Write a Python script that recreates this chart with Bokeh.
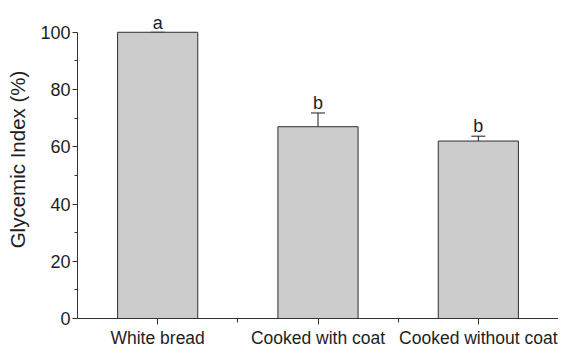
from bokeh.plotting import figure
from bokeh.models import ColumnDataSource, FixedTicker, Whisker, TeeHead, Range1d
from bokeh.core.properties import value
from bokeh.embed import file_html
from bokeh.resources import INLINE

categories = ["White bread", "Cooked with coat", "Cooked without coat"]
gi_values = [100, 67, 62]
gi_errors = [0, 4.8, 1.7]
sig_letters = ["a", "b", "b"]
y_ticks = [0, 20, 40, 60, 80, 100]
y_minor = [10, 30, 50, 70, 90]

xs = list(range(len(categories)))
src = ColumnDataSource(dict(
    x=xs,
    top=gi_values,
    upper=[v + e for v, e in zip(gi_values, gi_errors)],
    lower=gi_values,
    lab_y=[v + e + 3.4 for v, e in zip(gi_values, gi_errors)],
    lab=sig_letters,
))

FONT = "Liberation Sans"
TXT = "#1e1e1e"

p = figure(width=558, height=350, output_backend="svg", toolbar_location=None,
           x_range=Range1d(-0.5, 2.5), y_range=Range1d(0, 111.1),
           min_border_left=77, min_border_right=0, min_border_top=0, min_border_bottom=29)
p.outline_line_color = None
p.xgrid.visible = False
p.ygrid.visible = False
p.background_fill_color = "white"

p.vbar(x="x", top="top", bottom=0, width=0.5, source=src,
       fill_color="#cccccc", line_color="#2e2e2e", line_width=1)

w = Whisker(base="x", upper="upper", lower="lower", source=src,
            line_color="#1a1a1a", line_width=1,
            upper_head=TeeHead(size=14, line_color="#1a1a1a", line_width=1),
            lower_head=None)
p.add_layout(w)

p.text(x="x", y="lab_y", text="lab", source=src, text_align="center",
       text_baseline="alphabetic", text_font=value(FONT), text_font_size="18px",
       text_color=TXT)

# y axis
ya = p.yaxis[0]
ya.ticker = FixedTicker(ticks=y_ticks, minor_ticks=y_minor)
ya.bounds = (0, 100)
ya.axis_label = "Glycemic Index (%)"
ya.axis_label_text_font = FONT
ya.axis_label_text_font_size = "20.5px"
ya.axis_label_text_font_style = "normal"
ya.axis_label_text_color = TXT
ya.axis_label_standoff = 8
ya.major_label_text_font = FONT
ya.major_label_text_font_size = "18px"
ya.major_label_text_color = TXT
ya.major_label_standoff = 2
ya.major_tick_out = 5
ya.major_tick_in = 0
ya.minor_tick_out = 3
ya.minor_tick_in = 0
ya.axis_line_color = "#333333"
ya.major_tick_line_color = "#333333"
ya.minor_tick_line_color = "#333333"

# x axis
xa = p.xaxis[0]
xa.ticker = FixedTicker(ticks=xs, minor_ticks=[i + 0.5 for i in xs[:-1]])
xa.major_label_overrides = {i: c for i, c in zip(xs, categories)}
xa.major_label_text_font = FONT
xa.major_label_text_font_size = "17.5px"
xa.major_label_text_color = TXT
xa.major_label_standoff = 3
xa.major_tick_out = 6
xa.major_tick_in = 0
xa.minor_tick_out = 4
xa.minor_tick_in = 0
xa.axis_line_color = "#333333"
xa.major_tick_line_color = "#333333"
xa.minor_tick_line_color = "#333333"

open("out.html", "w").write(file_html(p, INLINE))
